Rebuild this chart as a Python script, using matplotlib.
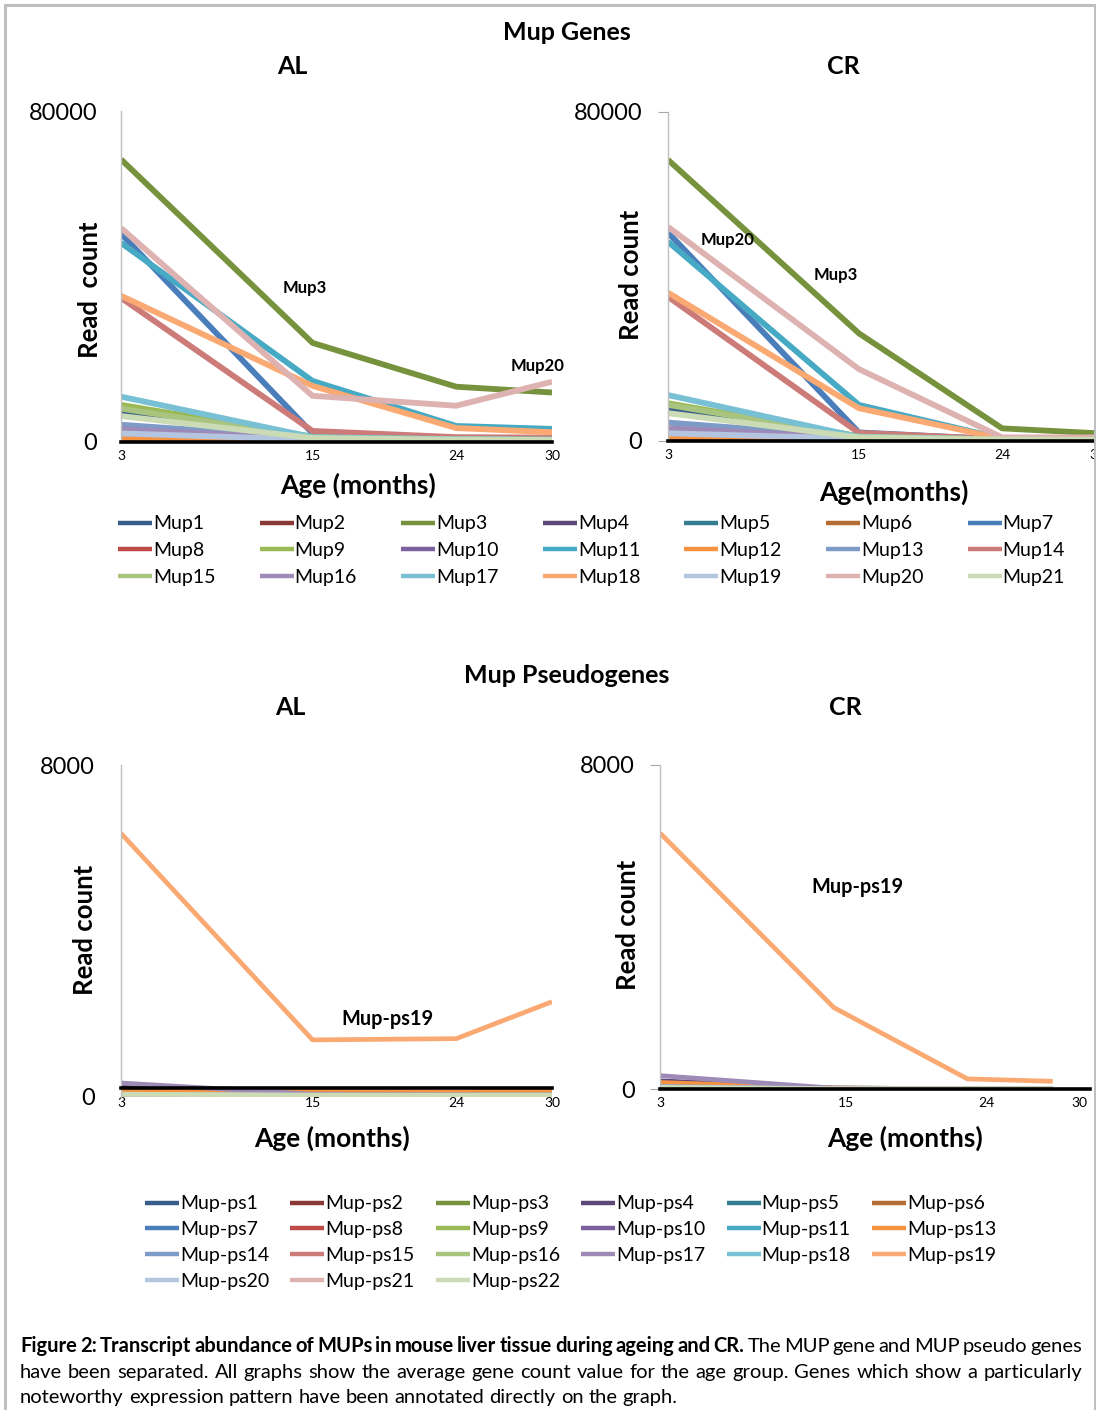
import matplotlib
matplotlib.use("Agg")
import matplotlib.pyplot as plt
from matplotlib.lines import Line2D

plt.rcParams['font.family'] = ['Lato', 'DejaVu Sans']

W, H = 1096, 1410

# ---- data -------------------------------------------------------------
AGES = [3, 15, 24, 30]
AGES_PS_CR = [3, 14.2, 22.8, 28.3]   # as drawn in the CR pseudogene panel

MUP_NAMES = [f"Mup{i}" for i in range(1, 22)]
PS_NAMES = [f"Mup-ps{i}" for i in list(range(1, 12)) + list(range(13, 23))]

mup_al = [
    [7500, 1000, 600, 500],      # Mup1
    [300, 200, 150, 150],        # Mup2
    [68300, 23900, 13300, 11900],  # Mup3
    [500, 200, 150, 150],        # Mup4
    [1200, 400, 300, 300],       # Mup5
    [100, 50, 50, 50],           # Mup6
    [50300, 2000, 700, 600],     # Mup7
    [600, 200, 150, 150],        # Mup8
    [8900, 1200, 700, 600],      # Mup9
    [2500, 600, 400, 300],       # Mup10
    [48100, 14700, 3800, 3100],  # Mup11
    [1000, 300, 200, 200],       # Mup12
    [4100, 900, 500, 400],       # Mup13
    [34800, 2600, 1100, 1000],   # Mup14
    [8000, 1000, 600, 500],      # Mup15
    [3000, 700, 400, 300],       # Mup16
    [10900, 1100, 600, 500],     # Mup17
    [35300, 13500, 3300, 2300],  # Mup18
    [2000, 500, 300, 300],       # Mup19
    [51700, 11100, 8700, 14500],  # Mup20
    [6200, 900, 500, 400],       # Mup21
]

mup_cr = [
    [7900, 900, 300, 200],
    [500, 150, 100, 100],
    [68300, 26100, 3000, 1800],
    [600, 200, 100, 100],
    [1300, 400, 100, 100],
    [200, 100, 50, 50],
    [50600, 2000, 300, 200],
    [800, 200, 100, 100],
    [9100, 1100, 300, 200],
    [2700, 600, 200, 100],
    [48400, 8700, 500, 300],
    [1100, 300, 100, 100],
    [4400, 900, 200, 200],
    [35000, 1900, 400, 300],
    [8700, 1000, 300, 200],
    [3000, 700, 200, 200],
    [11100, 900, 300, 200],
    [36000, 7900, 500, 300],
    [1800, 500, 200, 200],
    [52000, 17400, 800, 800],
    [6700, 800, 300, 200],
]

ps_al = [
    [120, 60, 50, 50], [60, 40, 30, 30], [30, 20, 20, 20], [250, 80, 60, 60],
    [40, 30, 30, 30], [100, 80, 80, 90], [50, 40, 40, 40], [40, 30, 30, 30],
    [20, 10, 10, 10], [150, 50, 40, 40], [30, 20, 20, 20], [150, 130, 110, 150],
    [60, 40, 30, 30], [40, 30, 30, 30], [10, 5, 5, 5], [330, 60, 50, 50],
    [30, 20, 20, 20], [6350, 1370, 1400, 2290], [50, 30, 30, 30],
    [20, 10, 10, 10], [60, 40, 40, 40],
]

ps_cr = [
    [100, 10, 5, 5], [60, 10, 5, 5], [30, 5, 5, 5], [200, 20, 10, 10],
    [40, 10, 5, 5], [120, 20, 10, 10], [50, 10, 5, 5], [40, 10, 5, 5],
    [20, 5, 5, 5], [150, 20, 10, 10], [30, 5, 5, 5], [160, 20, 10, 10],
    [60, 10, 5, 5], [40, 10, 5, 5], [10, 5, 5, 5], [330, 20, 10, 10],
    [30, 5, 5, 5], [6320, 2010, 250, 190], [50, 10, 5, 5],
    [20, 5, 5, 5], [40, 5, 5, 5],
]

COLORS = ['#385D8A', '#8C3836', '#76923C', '#5C4776', '#357D91', '#B66D31',
          '#4A7EBB', '#BE4B48', '#98B954', '#7D60A0', '#46AAC5', '#F69240',
          '#7E9BC8', '#CC7B79', '#A9C47F', '#9D8AB6', '#78C0D4', '#F9A971',
          '#B4C5E0', '#DDB2B1', '#CADBB5']

# ---- figure -----------------------------------------------------------
fig = plt.figure(figsize=(W / 100, H / 100), dpi=100)


def px_axes(x0, x1, ytop, ybot):
    return fig.add_axes([x0 / W, 1 - ybot / H, (x1 - x0) / W, (ybot - ytop) / H])


def style(ax, ymax, base, ticklen, pad):
    ax.set_ylim(0, ymax)
    ax.set_yticks([0, ymax])
    ax.set_yticklabels(["0", str(ymax)], fontsize=17)
    ax.set_xticks(AGES)
    ax.set_xticklabels([str(a) for a in AGES], fontsize=11.5, fontweight='bold')
    ax.tick_params(axis='y', length=ticklen, color='#A6A6A6', pad=pad)
    ax.tick_params(axis='x', length=0, pad=6)
    for s in ['top', 'right']:
        ax.spines[s].set_visible(False)
    ax.spines['left'].set_color('#BFBFBF')
    ax.spines['left'].set_linewidth(1)
    ax.spines['bottom'].set_position(('data', base))
    ax.spines['bottom'].set_color('black')
    ax.spines['bottom'].set_linewidth(2.6)
    ax.patch.set_alpha(0)


def labels(ax, ylab, ypos, xlab, xpos):
    ax.set_ylabel(ylab, fontsize=18.5, fontweight='bold')
    ax.yaxis.label.set_verticalalignment('center')
    ax.yaxis.set_label_coords(*ypos)
    ax.set_xlabel(xlab, fontsize=19, fontweight='bold')
    ax.xaxis.label.set_verticalalignment('center')
    ax.xaxis.set_label_coords(*xpos)


def draw(ax, x, series, names, lw):
    lines = []
    for vals, c, name in zip(series, COLORS, names):
        ln, = ax.plot(x, vals, color=c, lw=lw, label=name, solid_capstyle='butt')
        lines.append(ln)
    return lines


# top-left: AL genes
ax1 = px_axes(121, 552, 111, 441.7)
gene_lines = draw(ax1, AGES, mup_al, MUP_NAMES, 4.2)
ax1.set_xlim(3, 30)
style(ax1, 80000, 0, 0, 17)
labels(ax1, "Read  count", (-0.072, 0.459), "Age (months)", (0.55, -0.131))
ax1.text(14.5, 37200, "Mup3", fontsize=12, fontweight='bold', ha='center', va='center')
ax1.text(29.1, 18300, "Mup20", fontsize=12, fontweight='bold', ha='center', va='center')

# top-right: CR genes
ax2 = px_axes(668, 1104, 111.7, 440.7)
draw(ax2, AGES, mup_cr, MUP_NAMES, 4.2)
ax2.set_xlim(3, 30.4)
style(ax2, 80000, 0, 7, 11.5)
labels(ax2, "Read count", (-0.085, 0.504), "Age(months)", (0.518, -0.156))
ax2.text(6.75, 48800, "Mup20", fontsize=12, fontweight='bold', ha='center', va='center')
ax2.text(13.56, 40300, "Mup3", fontsize=12, fontweight='bold', ha='center', va='center')

# bottom-left: AL pseudogenes
ax3 = px_axes(121, 552, 765, 1096.7)
ps_lines = draw(ax3, AGES, ps_al, PS_NAMES, 3.4)
ax3.set_xlim(3, 30)
style(ax3, 8000, 200, 0, 19)
labels(ax3, "Read count", (-0.0835, 0.5026), "Age (months)", (0.49, -0.1245))
ax3.text(19.66, 1874, "Mup-ps19", fontsize=14.3, fontweight='bold', ha='center', va='center')

# bottom-right: CR pseudogenes
ax4 = px_axes(660, 1090, 765, 1089)
draw(ax4, AGES_PS_CR, ps_cr, PS_NAMES, 3.4)
ax4.set_xlim(3, 30.7)
style(ax4, 8000, 0, 7, 11)
labels(ax4, "Read count", (-0.074, 0.506), "Age (months)", (0.57, -0.151))
ax4.text(15.75, 4990, "Mup-ps19", fontsize=14.3, fontweight='bold', ha='center', va='center')

# titles
for txt, x, y in [("Mup Genes", 567, 33), ("AL", 292, 66), ("CR", 843, 66),
                  ("Mup Pseudogenes", 567, 675), ("AL", 290, 708), ("CR", 845, 708)]:
    fig.text(x / W, 1 - y / H, txt, fontsize=18, fontweight='bold', ha='center', va='center')


# legends (row-major order like the original)
def row_major(items, ncol):
    n = len(items)
    nrows, nlarge = divmod(n, ncol)
    out = []
    for c in range(ncol):
        rows = nrows + 1 if c < nlarge else nrows
        for r in range(rows):
            out.append(items[r * ncol + c])
    return out


h1 = row_major(gene_lines, 7)
fig.legend(h1, [h.get_label() for h in h1], ncol=7, loc='upper left',
           bbox_to_anchor=(118 / W, 1 - 515.5 / H), frameon=False, fontsize=14,
           handlelength=1.75, handletextpad=0.05, columnspacing=2.27,
           labelspacing=0.5, borderaxespad=0, borderpad=0)

h2 = row_major(ps_lines, 6)
fig.legend(h2, [h.get_label() for h in h2], ncol=6, loc='upper left',
           bbox_to_anchor=(145 / W, 1 - 1195.5 / H), frameon=False, fontsize=14,
           handlelength=1.75, handletextpad=0.05, columnspacing=1.09,
           labelspacing=0.45, borderaxespad=0, borderpad=0)
for leg in fig.legends:
    for ln in leg.get_lines():
        ln.set_linewidth(3.2)

# caption, justified word by word
CAP_FS = 14.5
r = fig.canvas.get_renderer()


def word_width(s, weight):
    t = fig.text(0, 0, s, fontsize=CAP_FS, fontweight=weight)
    w = t.get_window_extent(r).width
    t.remove()
    return w


bold_part = "Figure 2: Transcript abundance of MUPs in mouse liver tissue during ageing and CR."
cap_lines = [
    [(w, 'bold') for w in bold_part.split()] +
    [(w, 'normal') for w in "The MUP gene and MUP pseudo genes".split()],
    [(w, 'normal') for w in ("have been separated. All graphs show the average gene count value "
                             "for the age group. Genes which show a particularly").split()],
    [(w, 'normal') for w in "noteworthy expression pattern have been annotated directly on the graph.".split()],
]
cap_baseline = [1352, 1378, 1403]
space = word_width("a a", 'normal') - 2 * word_width("a", 'normal')
for i, (tokens, y) in enumerate(zip(cap_lines, cap_baseline)):
    widths = [word_width(w, wt) for w, wt in tokens]
    if i < 2:
        gap = (1082 - 20 - sum(widths)) / (len(tokens) - 1)
    else:
        gap = space
    x = 20
    for (w, wt), wd in zip(tokens, widths):
        fig.text(x / W, 1 - y / H, w, fontsize=CAP_FS, fontweight=wt, va='baseline', ha='left')
        x += wd + gap

# page frame
frame = dict(color='#BFBFBF', lw=2.2, transform=fig.transFigure, zorder=10)
fig.add_artist(Line2D([5 / W, 1], [1 - 5 / H, 1 - 5 / H], **frame))
fig.add_artist(Line2D([5 / W, 5 / W], [0, 1 - 5 / H], **frame))
fig.add_artist(Line2D([1094.5 / W, 1094.5 / W], [0, 1 - 5 / H], **frame))

fig.savefig("out.png", dpi=100)
